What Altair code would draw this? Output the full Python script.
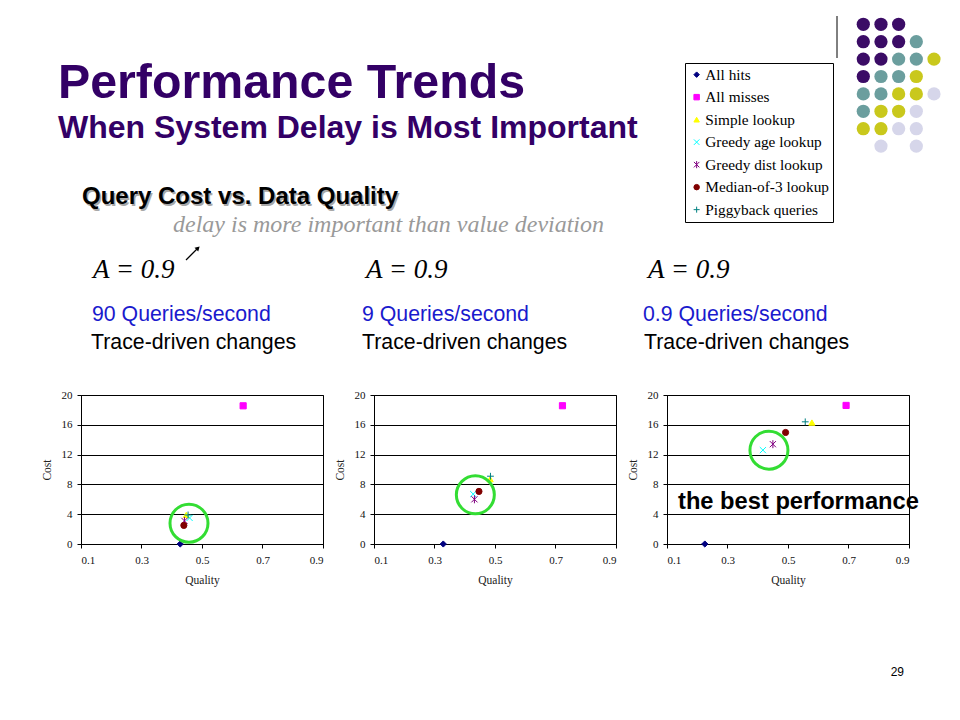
import altair as alt
import pandas as pd

# ---------------- data ----------------
series = ["All hits", "All misses", "Simple lookup", "Greedy age lookup",
          "Greedy dist lookup", "Median-of-3 lookup", "Piggyback queries"]
colors = ["#000080", "#FF00FF", "#FFFF00", "#00FFFF", "#800080", "#800000", "#008080"]
shapes = ["diamond", "square", "triangle-up",
          "M-1,-1L1,1M-1,1L1,-1",
          "M-1,-1L1,1M-1,1L1,-1M0,-1.3L0,1.3",
          "circle",
          "M-1.1,0L1.1,0M0,-1.1L0,1.1"]

quality_90 = [0.428, 0.636, 0.448, 0.459, 0.442, 0.440, 0.454]
cost_90 = [0.0, 18.55, 3.9, 3.5, 3.1, 2.5, 3.9]
quality_9 = [0.329, 0.723, 0.484, 0.428, 0.432, 0.447, 0.485]
cost_9 = [0.0, 18.56, 8.7, 6.7, 6.0, 7.06, 9.1]
quality_09 = [0.225, 0.692, 0.579, 0.417, 0.450, 0.492, 0.557]
cost_09 = [0.0, 18.6, 16.3, 12.6, 13.4, 14.97, 16.4]

best_quality = [0.457, 0.435, 0.437]
best_cost = [2.8, 6.6, 12.6]

rates = ["90 Queries/second", "9 Queries/second", "0.9 Queries/second"]
x_ticks = [0.1, 0.3, 0.5, 0.7, 0.9]
y_ticks = [0, 4, 8, 12, 16, 20]

dot_pattern = ["PPP..", "PPPT.", "PPTTY", "PTTY.", "TTYYL", "TYYL.", "YYLL.", ".L.L."]
dot_tones = ["P", "T", "Y", "L"]
dot_colors = ["#3b0c66", "#6b9e9e", "#c9c81c", "#d6d6ea"]

# ---------------- layout ----------------
W, H = 242, 149
SPACING = 51
OX, OY = 80, 394          # page position of first panel's plot area
OX3 = OX + 2 * (W + SPACING)
SANS = "Liberation Sans"
SERIF = "Liberation Serif"
TITLE_COLOR = "#330066"
RING = "#33dd33"


def text(label, px, py, size, color="black", font=SANS, weight="normal",
         style="normal", align="left", dx=0, dy=0, ox=OX, oy=OY):
    return alt.Chart(pd.DataFrame({"t": [label]})).mark_text(
        font=font, fontSize=size, fontWeight=weight, fontStyle=style,
        color=color, align=align, baseline="alphabetic", dx=dx, dy=dy
    ).encode(x=alt.value(px - ox), y=alt.value(py - oy), text="t:N")


one = pd.DataFrame({"k": [0]})


def panel(q, c, bq, bc, legend):
    df = pd.DataFrame({"series": series, "quality": q, "cost": c})
    x = alt.X("quality:Q",
              scale=alt.Scale(domain=[0.1, 0.9], nice=False, zero=False),
              axis=alt.Axis(values=x_ticks, format=".1f", title="Quality",
                            grid=False, labelPadding=6, titlePadding=9))
    y = alt.Y("cost:Q",
              scale=alt.Scale(domain=[0, 20], nice=False),
              axis=alt.Axis(values=y_ticks, title="Cost", grid=True,
                            labelPadding=5, titlePadding=9))
    pts = alt.Chart(df).mark_point(filled=True, size=38, strokeWidth=1, opacity=1).encode(
        x=x, y=y,
        fill=alt.Fill("series:N", scale=alt.Scale(domain=series, range=colors), legend=legend),
        stroke=alt.Stroke("series:N", scale=alt.Scale(domain=series, range=colors), legend=legend),
        shape=alt.Shape("series:N", scale=alt.Scale(domain=series, range=shapes), legend=legend),
    )
    ring = alt.Chart(pd.DataFrame({"quality": [bq], "cost": [bc]})).mark_point(
        shape="circle", filled=False, size=1444, stroke=RING, strokeWidth=3, opacity=1
    ).encode(x=x, y=y)
    return pts, ring


legend = alt.Legend(
    orient="none", legendX=684 - OX, legendY=62 - OY, title=None,
    labelFont=SERIF, labelFontSize=15.3, labelColor="black",
    strokeColor="black", fillColor="white", padding=4,
    rowPadding=6.5, symbolSize=30, symbolStrokeWidth=1, labelOffset=1,
)

p1_pts, p1_ring = panel(quality_90, cost_90, best_quality[0], best_cost[0], legend)
p2_pts, p2_ring = panel(quality_9, cost_9, best_quality[1], best_cost[1], None)
p3_pts, p3_ring = panel(quality_09, cost_09, best_quality[2], best_cost[2], None)

# anchor at the page's top-left corner (page margin 8px)
anchor = alt.Chart(one).mark_rect(opacity=0).encode(
    x=alt.value(8 - OX), x2=alt.value(9 - OX), y=alt.value(8 - OY), y2=alt.value(9 - OY))

# decorative dots
dot_rows = []
for r, line in enumerate(dot_pattern):
    for ci, ch in enumerate(line):
        if ch != ".":
            dot_rows.append({"row": r, "col": ci, "tone": ch})
dots = alt.Chart(pd.DataFrame(dot_rows)).transform_calculate(
    px=f"{862.3 - OX} + 17.67 * datum.col",
    py=f"{23.3 - OY} + 17.4 * datum.row",
).mark_point(filled=True, shape="circle", size=175, opacity=1).encode(
    x=alt.X("px:Q", scale=None),
    y=alt.Y("py:Q", scale=None),
    color=alt.Color("tone:N", scale=alt.Scale(domain=dot_tones, range=dot_colors), legend=None),
)

vline = alt.Chart(one).mark_rule(color="black", strokeWidth=1).encode(
    x=alt.value(836 - OX), y=alt.value(15 - OY), y2=alt.value(57 - OY))

arrow = alt.Chart(one).mark_rule(color="black", strokeWidth=1.3).encode(
    x=alt.value(185 - OX), y=alt.value(259 - OY),
    x2=alt.value(196 - OX), y2=alt.value(248 - OY))
arrow_head = alt.Chart(one).mark_point(shape="triangle-up", angle=45, filled=True,
                                       size=28, color="black", opacity=1).encode(
    x=alt.value(197 - OX), y=alt.value(247 - OY))

texts = [
    text("Performance Trends", 57, 97, 48.3, TITLE_COLOR, weight="bold"),
    text("When System Delay is Most Important", 57, 137, 32, TITLE_COLOR, weight="bold"),
    text("Query Cost vs. Data Quality", 81, 203, 24, "#a8a8a8", weight="bold", dx=1.5, dy=1.5),
    text("Query Cost vs. Data Quality", 81, 203, 24, "black", weight="bold"),
    text("delay is more important than value deviation", 172, 231, 24, "#999999",
         font=SERIF, style="italic"),
    text("A = 0.9", 92, 277, 27, font=SERIF, style="italic"),
    text("A = 0.9", 365, 277, 27, font=SERIF, style="italic"),
    text("A = 0.9", 647, 277, 27, font=SERIF, style="italic"),
    text(rates[0], 91, 320, 21.3, "#1a1acd"),
    text(rates[1], 361, 320, 21.3, "#1a1acd"),
    text(rates[2], 642, 320, 21.3, "#1a1acd"),
    text("Trace-driven changes", 90, 348, 21.3),
    text("Trace-driven changes", 361, 348, 21.3),
    text("Trace-driven changes", 643, 348, 21.3),
    text("29", 903, 675, 12, align="right"),
]

p1 = alt.layer(anchor, dots, vline, arrow, arrow_head, *texts, p1_pts, p1_ring).properties(
    width=W, height=H)
p2 = alt.layer(p2_pts, p2_ring).properties(width=W, height=H)
best = text("the best performance", 677, 508, 23.7, weight="bold", ox=OX3)
p3 = alt.layer(p3_pts, p3_ring, best).properties(width=W, height=H)

chart = alt.hconcat(p1, p2, p3, spacing=SPACING, bounds="flush").properties(
    padding=0, background="white"
).configure_view(
    stroke="black", strokeWidth=1
).configure_axis(
    domainColor="black", tickColor="black", gridColor="black", gridOpacity=1,
    gridWidth=1, tickSize=4, labelFont=SERIF, labelFontSize=11, labelColor="#111",
    titleFont=SERIF, titleFontSize=11.5, titleFontWeight="normal", titleColor="#222",
)

chart.save("out.html", embed_options={"renderer": "svg", "actions": False})
